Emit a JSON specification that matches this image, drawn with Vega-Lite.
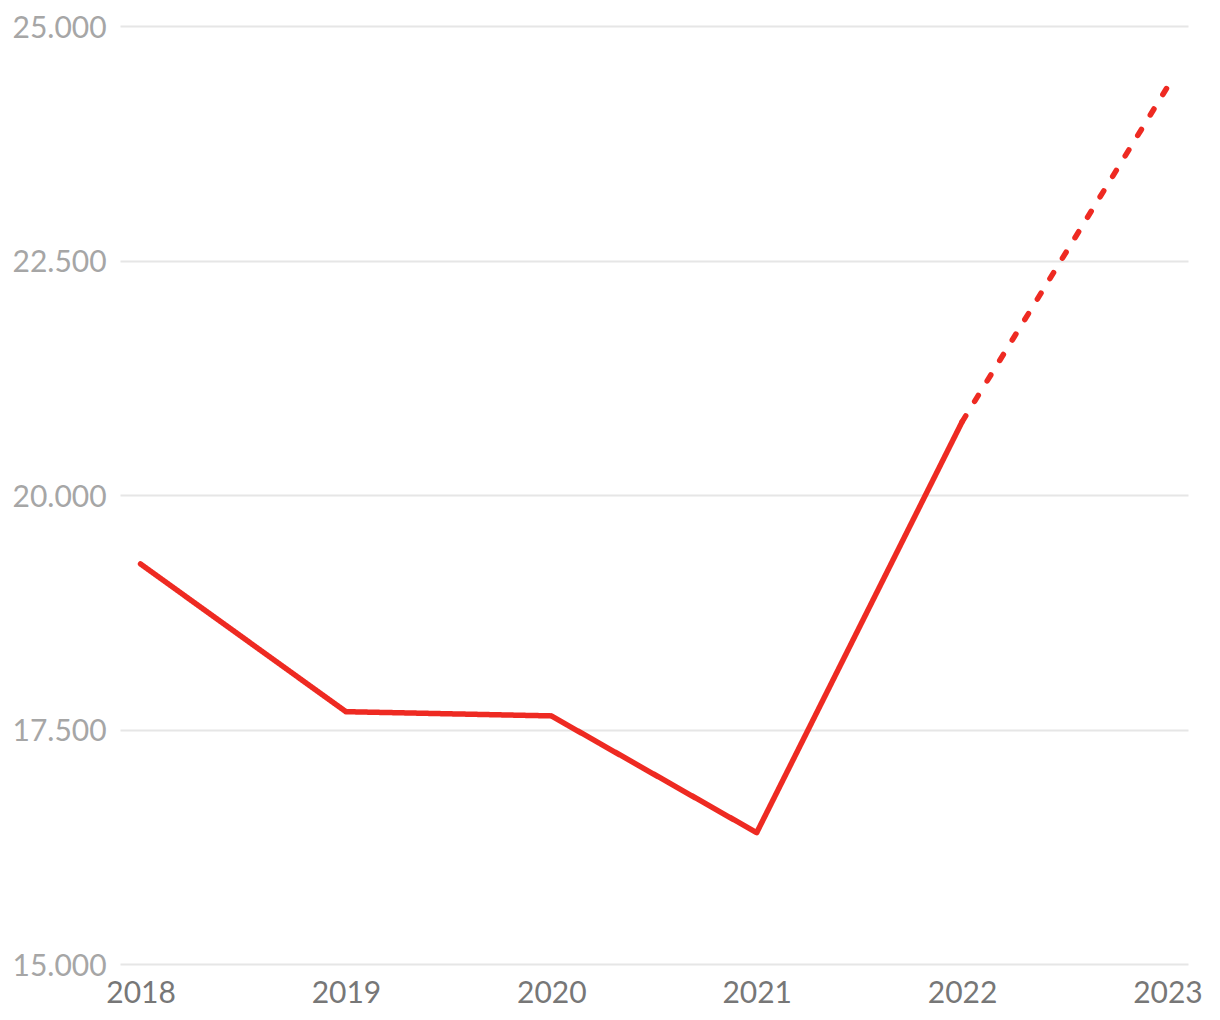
{
  "$schema": "https://vega.github.io/schema/vega-lite/v6.json",
  "width": 1068,
  "height": 938,
  "autosize": {"type": "none"},
  "padding": {"left": 120, "top": 26, "right": 32, "bottom": 56},
  "config": {
    "view": {"stroke": null},
    "font": "Lato",
    "locale": {"number": {"decimal": ",", "thousands": ".", "grouping": [3], "currency": ["", " €"]}}
  },
  "data": {
    "values": [
      {"year": "2018", "value": 19265, "part": "actual"},
      {"year": "2019", "value": 17690, "part": "actual"},
      {"year": "2020", "value": 17645, "part": "actual"},
      {"year": "2021", "value": 16400, "part": "actual"},
      {"year": "2022", "value": 20780, "part": "actual"},
      {"year": "2022", "value": 20780, "part": "forecast"},
      {"year": "2023", "value": 24350, "part": "forecast"}
    ]
  },
  "mark": {"type": "line", "strokeWidth": 5.5, "strokeCap": "round", "strokeJoin": "round", "color": "#ee2a22"},
  "encoding": {
    "x": {
      "field": "year", "type": "ordinal",
      "scale": {"type": "point", "padding": 0.1},
      "axis": {"title": null, "domain": false, "ticks": false, "grid": false, "labelAngle": 0, "labelFontSize": 30, "labelColor": "#777777", "labelPadding": 14, "labelBaseline": "top"}
    },
    "y": {
      "field": "value", "type": "quantitative",
      "scale": {"domain": [15000, 25000], "nice": false, "zero": false},
      "axis": {"title": null, "domain": false, "ticks": false, "values": [15000, 17500, 20000, 22500, 25000], "format": ",d", "grid": true, "gridColor": "#e6e6e6", "gridWidth": 2, "labelFontSize": 30, "labelColor": "#a6a6a6", "labelAlign": "left", "labelPadding": 108, "labelBaseline": "middle", "labelOffset": 2}
    },
    "strokeDash": {
      "field": "part", "type": "nominal",
      "scale": {"domain": ["actual", "forecast"], "range": [[1, 0], [7, 17]]},
      "legend": null
    }
  }
}
